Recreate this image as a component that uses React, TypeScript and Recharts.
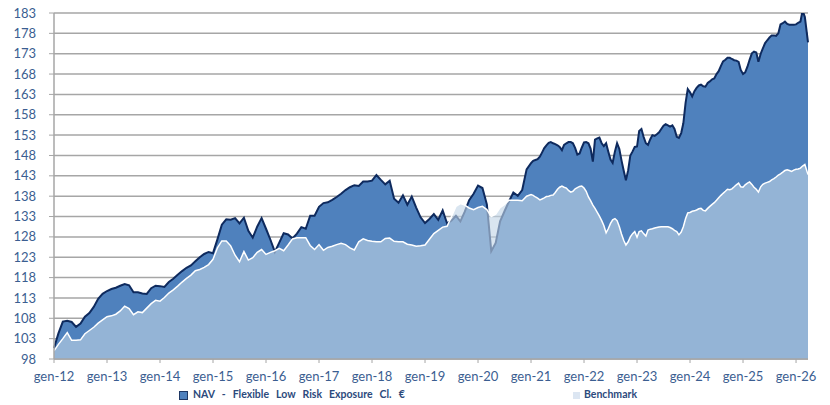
import { AreaChart, Area, XAxis, YAxis, CartesianGrid } from "recharts";

const firstYear = 2012;
const yearTicks = [2012, 2013, 2014, 2015, 2016, 2017, 2018, 2019, 2020, 2021, 2022, 2023, 2024, 2025, 2026];
const yTicks = [98, 103, 108, 113, 118, 123, 128, 133, 138, 143, 148, 153, 158, 163, 168, 173, 178, 183];

// one reading per month (1st), Jan-2012 .. Dec-2020
const navMonthly = [
  100.7, 104.3, 107.2, 107.4, 107.1, 105.9, 106.7, 108.4, 109.3, 110.8, 112.8, 114.0, // 2012
  114.7, 115.2, 115.5, 116.0, 116.4, 116.1, 114.4, 114.4, 114.1, 114.0, 115.4, 116.0, // 2013
  115.9, 115.7, 116.9, 117.7, 118.7, 119.6, 120.4, 121.0, 122.0, 123.0, 123.8, 124.3, // 2014
  124.0, 127.4, 131.0, 132.3, 132.2, 132.6, 131.3, 132.7, 129.5, 127.8, 130.5, 132.6, // 2015
  130.0, 127.3, 124.3, 126.6, 128.9, 128.6, 127.6, 128.8, 130.4, 130.0, 133.2, 133.2, // 2016
  135.4, 136.3, 136.5, 137.1, 137.8, 138.6, 139.5, 140.2, 140.7, 140.5, 141.6, 141.6, // 2017
  141.8, 143.2, 142.0, 140.9, 141.8, 137.4, 136.4, 138.2, 135.9, 137.9, 135.2, 132.8, // 2018
  131.4, 132.4, 133.6, 132.2, 134.5, 131.3, 132.0, 133.2, 131.8, 134.2, 137.0, 138.6, // 2019
  140.6, 140.0, 136.0, 124.5, 126.5, 131.8, 134.3, 136.7, 138.9, 138.1, 139.5, 144.6, // 2020
];

const benchmarkMonthly = [
  100.0, 101.6, 103.0, 104.5, 102.6, 102.6, 102.7, 104.2, 105.0, 105.8, 106.8, 107.6, // 2012
  108.4, 108.6, 109.0, 109.8, 111.0, 110.4, 108.9, 109.6, 109.4, 110.5, 111.6, 112.4, // 2013
  112.2, 113.1, 114.2, 115.0, 115.9, 116.9, 117.8, 118.6, 119.7, 120.0, 120.5, 121.2, // 2014
  122.5, 125.3, 127.0, 127.0, 125.8, 123.5, 121.9, 124.4, 122.3, 122.9, 124.2, 124.9, // 2015
  123.7, 124.2, 124.6, 125.2, 124.6, 126.0, 127.5, 127.8, 127.8, 127.8, 125.9, 124.9, // 2016
  126.1, 124.7, 125.4, 125.7, 126.1, 126.4, 126.1, 125.3, 124.8, 126.8, 127.5, 127.1, // 2017
  126.9, 126.8, 126.8, 127.6, 127.7, 126.9, 126.8, 126.8, 126.2, 126.0, 125.7, 125.8, // 2018
  126.0, 127.4, 128.8, 129.6, 130.4, 130.6, 133.0, 135.5, 136.2, 135.8, 135.1, 134.7, // 2019
  135.2, 135.5, 134.7, 133.0, 133.6, 135.2, 136.0, 137.0, 137.0, 137.0, 136.9, 138.0, // 2020
];

// two readings per month (1st and 16th), Jan-2021 .. 1 Mar-2026
const navHalfMonthly = [
  146.1, 146.7, 146.9, 147.1, 147.7, 148.7, 149.8, 150.5, 151.1, 151.3, 151.0, 150.8,
  150.5, 150.1, 149.3, 150.6, 151.0, 151.3, 151.3, 151.0, 149.8, 148.2, 148.5, 149.9, // 2021
  151.2, 151.3, 151.0, 149.7, 146.5, 151.9, 152.2, 152.4, 151.0, 150.3, 151.0, 149.0,
  147.0, 146.2, 149.0, 151.0, 149.6, 146.8, 144.2, 141.9, 144.4, 148.0, 149.0, 150.1, // 2022
  150.2, 154.0, 154.5, 152.6, 151.0, 150.6, 152.0, 153.0, 152.8, 153.2, 153.7, 154.5,
  155.3, 155.7, 155.4, 155.1, 155.4, 154.5, 152.6, 152.3, 153.5, 155.9, 161.0, 164.3, // 2023
  163.5, 162.5, 163.8, 164.6, 165.2, 165.4, 165.0, 164.9, 165.8, 166.2, 166.7, 166.9,
  168.0, 168.7, 170.0, 171.1, 171.5, 172.0, 172.0, 171.7, 171.4, 171.3, 171.0, 169.0, // 2024
  168.0, 168.4, 169.8, 171.5, 173.1, 173.5, 173.3, 171.0, 173.0, 174.3, 175.6, 176.3,
  177.0, 177.5, 177.5, 177.4, 178.0, 180.2, 180.5, 180.9, 180.3, 180.1, 180.1, 180.1, // 2025
  180.2, 180.6, 180.9, 183.6, 182.0, // 2026
];

const benchmarkHalfMonthly = [
  138.4, 138.2, 137.8, 137.5, 137.1, 137.3, 137.6, 137.9, 138.0, 138.2, 138.3, 138.9,
  139.7, 140.2, 140.5, 140.2, 140.0, 139.4, 139.0, 139.2, 139.8, 140.1, 140.4, 140.5, // 2021
  140.0, 139.2, 137.8, 136.9, 135.8, 135.0, 134.0, 133.1, 132.0, 130.8, 129.0, 130.0,
  131.3, 132.2, 132.5, 132.0, 130.5, 128.7, 127.1, 126.0, 126.8, 128.0, 128.8, 129.3, // 2022
  127.9, 129.3, 129.5, 128.8, 128.2, 129.7, 129.9, 130.0, 130.2, 130.3, 130.4, 130.5,
  130.5, 130.5, 130.5, 130.3, 130.0, 129.6, 129.3, 128.5, 129.2, 130.5, 132.5, 133.9, // 2023
  134.0, 134.3, 134.4, 134.6, 134.9, 135.0, 134.5, 134.4, 135.0, 135.5, 136.0, 136.4,
  137.0, 137.6, 138.2, 138.7, 139.2, 139.7, 139.6, 139.8, 140.3, 140.8, 141.2, 140.3, // 2024
  140.2, 140.8, 141.2, 141.5, 140.9, 140.2, 139.7, 139.0, 140.3, 140.9, 141.2, 141.4,
  141.6, 142.0, 142.3, 142.7, 143.2, 143.5, 143.9, 144.3, 144.5, 144.3, 144.1, 144.4, // 2025
  144.6, 144.7, 144.9, 145.4, 145.8, // 2026
];

// last published value
const lastObservation = "2026-03-23";
const navLast = 175.8;
const benchmarkLast = 143.3;

const monthIndex = (date: string) => {
  const [y, m, d] = date.split("-").map(Number);
  return (y - firstYear) * 12 + (m - 1) + (d - 1) / 31;
};

const pad = (n: number) => String(n).padStart(2, "0");

const monthlyDates = navMonthly.map(
  (_, i) => `${firstYear + Math.floor(i / 12)}-${pad((i % 12) + 1)}-01`
);
const halfMonthlyDates = navHalfMonthly.map((_, i) => {
  const month = Math.floor(i / 2);
  return `${2021 + Math.floor(month / 12)}-${pad((month % 12) + 1)}-${i % 2 === 0 ? "01" : "16"}`;
});

const dates = [...monthlyDates, ...halfMonthlyDates, lastObservation];
const navValues = [...navMonthly, ...navHalfMonthly, navLast];
const benchmarkValues = [...benchmarkMonthly, ...benchmarkHalfMonthly, benchmarkLast];

const data = dates.map((d, i) => ({
  t: monthIndex(d),
  nav: navValues[i],
  benchmark: benchmarkValues[i],
}));

const lastT = monthIndex(lastObservation);
const xTicks = yearTicks.map((y) => (y - firstYear) * 12);

const axisGray = "#a6a6a6";
const labelBlue = "#3b5e91";

export default function App() {
  return (
    <div
      style={{
        position: "absolute",
        left: 0,
        top: 0,
        width: 830,
        height: 405,
        background: "#fff",
        fontFamily: "Lato, 'Liberation Sans', sans-serif",
      }}
    >
      <AreaChart width={830} height={405} data={data} margin={{ top: 13, right: 22, left: 0, bottom: 16 }}>
        <CartesianGrid vertical={false} stroke={axisGray} strokeWidth={1.5} />
        <XAxis
          type="number"
          dataKey="t"
          domain={[0, lastT]}
          ticks={xTicks}
          interval={0}
          tickFormatter={(v: number) => `gen-${String(12 + Math.round(v / 12))}`}
          axisLine={{ stroke: axisGray, strokeWidth: 1.5 }}
          tickLine={{ stroke: axisGray }}
          tickSize={4}
          tickMargin={9}
          height={30}
          tick={{ fill: labelBlue, fontSize: 13 }}
        />
        <YAxis
          type="number"
          domain={[98, 183]}
          ticks={yTicks}
          interval={0}
          allowDataOverflow
          axisLine={{ stroke: axisGray, strokeWidth: 1.5 }}
          tickLine={{ stroke: axisGray }}
          tickSize={5}
          tickMargin={13}
          width={54}
          tick={{ fill: labelBlue, fontSize: 13 }}
        />
        <Area
          type="linear"
          dataKey="nav"
          stroke="#0e2a5e"
          strokeWidth={2}
          fill="#4f81bd"
          fillOpacity={1}
          isAnimationActive={false}
        />
        <Area
          type="linear"
          dataKey="benchmark"
          stroke="#ffffff"
          strokeWidth={1.5}
          fill="rgb(193,212,230)"
          fillOpacity={0.61}
          isAnimationActive={false}
        />
      </AreaChart>
      <div
        style={{
          position: "absolute",
          top: 388,
          left: 0,
          width: 830,
          height: 16,
          fontSize: 10.5,
          fontWeight: 700,
          color: "#2c4a7c",
        }}
      >
        <span
          style={{
            position: "absolute",
            left: 179,
            top: 3,
            width: 7,
            height: 7,
            background: "#4f81bd",
            border: "1px solid #1f3864",
          }}
        />
        <span style={{ position: "absolute", left: 193, top: 0, wordSpacing: 4.5, whiteSpace: "nowrap" }}>
          NAV - Flexible Low Risk Exposure Cl. €
        </span>
        <span
          style={{ position: "absolute", left: 573, top: 4, width: 7, height: 7, background: "#dce6f2" }}
        />
        <span style={{ position: "absolute", left: 584, top: 0 }}>Benchmark</span>
      </div>
    </div>
  );
}
